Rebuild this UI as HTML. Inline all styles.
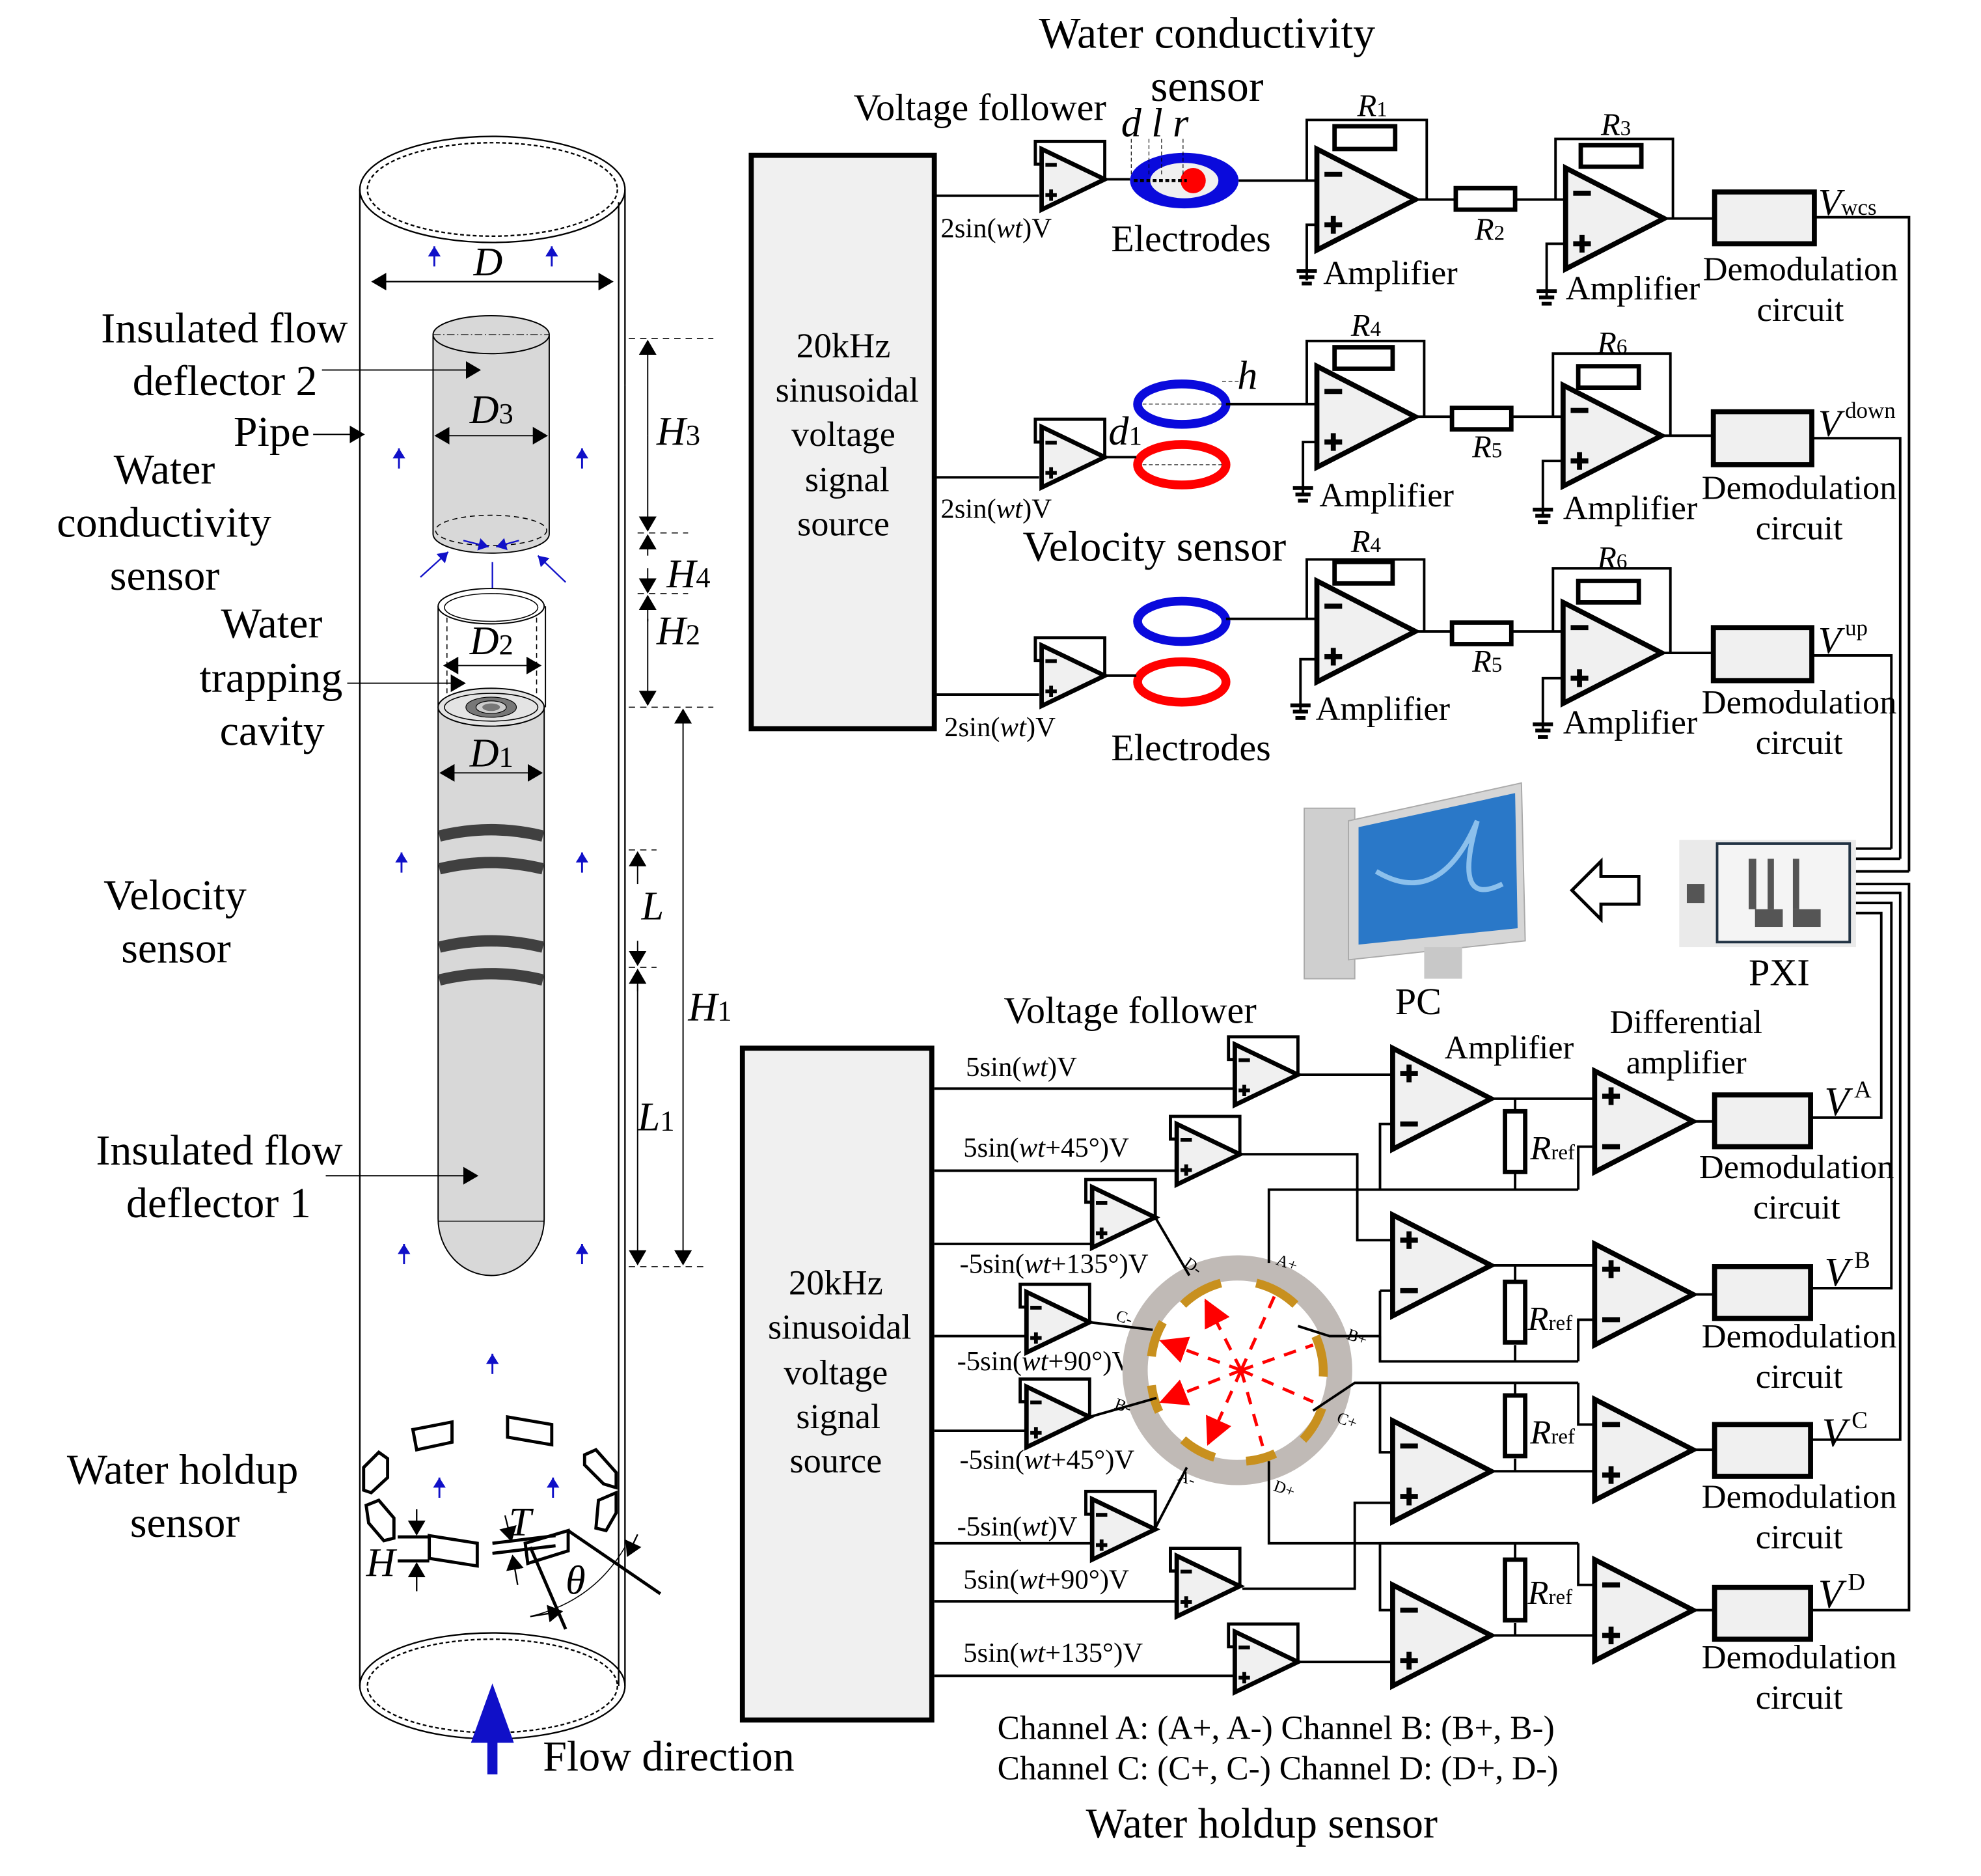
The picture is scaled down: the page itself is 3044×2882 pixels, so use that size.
<!DOCTYPE html>
<html><head><meta charset="utf-8"><style>
html,body{margin:0;padding:0;background:#fff}
svg{display:block}
text{font-family:"Liberation Serif",serif;fill:#000}
.i{font-style:italic}
</style></head><body>
<svg width="3044" height="2882" viewBox="0 0 1569 1485.5" xmlns="http://www.w3.org/2000/svg" font-family="Liberation Serif, serif">
<defs>
<marker id="ahb" markerWidth="12" markerHeight="14" refX="11" refY="7" orient="auto-start-reverse" markerUnits="userSpaceOnUse" viewBox="0 0 12 14"><path d="M0,0 L12,7 L0,14z" fill="#000"/></marker>
<marker id="ab" markerWidth="8" markerHeight="10" refX="8" refY="5" orient="auto-start-reverse" markerUnits="userSpaceOnUse" viewBox="0 0 8 10"><path d="M0,0 L8,5 L0,10z" fill="#1010c8"/></marker>
<marker id="ar" markerWidth="22" markerHeight="22" refX="20" refY="11" orient="auto" markerUnits="userSpaceOnUse" viewBox="0 0 22 22"><path d="M0,0 L22,11 L0,22z" fill="#f00"/></marker>
<g id="oam"><polygon points="0,0 0,80 78,40" fill="#f0f0f0" stroke="#000" stroke-width="4"/><rect x="6" y="18" width="14" height="4"/><rect x="6" y="58" width="14" height="4"/><rect x="11" y="53" width="4" height="14"/></g>
<g id="oap"><polygon points="0,0 0,80 78,40" fill="#f0f0f0" stroke="#000" stroke-width="4"/><rect x="6" y="18" width="14" height="4"/><rect x="11" y="13" width="4" height="14"/><rect x="6" y="58" width="14" height="4"/></g>
<g id="vf"><path d="M0,12 H-5 V-6 H50 V24" fill="none" stroke="#000" stroke-width="2.5"/><polygon points="0,0 0,48 50,24" fill="#f0f0f0" stroke="#000" stroke-width="3.5"/><rect x="3" y="11" width="9" height="3"/><rect x="3" y="35" width="9" height="3"/><rect x="6" y="32" width="3" height="9"/></g>
<g id="gnd"><rect x="-8" y="0" width="16" height="3"/><rect x="-6" y="5" width="12" height="3"/><rect x="-4" y="10" width="8" height="3"/></g>
<g id="barrow"><line x1="0" y1="16" x2="0" y2="0" stroke="#1010c8" stroke-width="1.5" marker-end="url(#ab)"/></g>
</defs>

<!-- ============ LEFT PIPE ============ -->
<g fill="none" stroke="#000" stroke-width="1.2">
<ellipse cx="390" cy="150" rx="105" ry="42"/>
<ellipse cx="390" cy="150" rx="99" ry="37" stroke-dasharray="3,2"/>
<ellipse cx="390" cy="1335" rx="105" ry="42"/>
<ellipse cx="390" cy="1335" rx="99" ry="37" stroke-dasharray="3,2"/>
<line x1="285" y1="150" x2="285" y2="1335"/>
<line x1="495" y1="150" x2="495" y2="305"/>
<line x1="490" y1="160" x2="490" y2="1335"/>
<line x1="495" y1="305" x2="495" y2="1335"/>
</g>
<line x1="295" y1="223" x2="485" y2="223" stroke="#000" stroke-width="1.2" marker-start="url(#ahb)" marker-end="url(#ahb)"/>
<text x="375" y="218" font-size="32" class="i">D</text>
<use href="#barrow" x="344" y="195"/><use href="#barrow" x="437" y="195"/>

<!-- deflector 2 -->
<path d="M343,265 V423 A46,15 0 0 0 435,423 V265" fill="#d8d8d8" stroke="#000" stroke-width="1"/>
<ellipse cx="389" cy="265" rx="46" ry="15" fill="#d8d8d8" stroke="#000" stroke-width="1"/>
<line x1="343" y1="265" x2="435" y2="265" stroke="#000" stroke-width="0.6" stroke-dasharray="6,2,1,2"/>
<ellipse cx="389" cy="420" rx="44" ry="12" fill="none" stroke="#000" stroke-width="0.8" stroke-dasharray="4,3"/>
<line x1="345" y1="345" x2="433" y2="345" stroke="#000" stroke-width="1" marker-start="url(#ahb)" marker-end="url(#ahb)"/>
<text x="372" y="335" font-size="32" class="i">D<tspan font-size="23" font-style="normal">3</tspan></text>
<g stroke="#1010c8" stroke-width="1.2">
<line x1="333" y1="457" x2="355" y2="437" marker-end="url(#ab)"/>
<line x1="448" y1="461" x2="426" y2="440" marker-end="url(#ab)"/>
<line x1="367" y1="428" x2="387" y2="433" marker-end="url(#ab)"/>
<line x1="411" y1="428" x2="393" y2="433" marker-end="url(#ab)"/>
<line x1="390" y1="445" x2="390" y2="475" marker-end="url(#ab)"/>
</g>
<!-- cavity -->
<path d="M347,480 V560 M432,480 V560" stroke="#000" stroke-width="1" fill="none"/>
<path d="M354,482 V560 M425,482 V560" stroke="#000" stroke-width="0.8" stroke-dasharray="4,3" fill="none"/>
<ellipse cx="389" cy="480" rx="42" ry="14" fill="#fff" stroke="#000" stroke-width="1"/>
<ellipse cx="389" cy="481" rx="37" ry="11" fill="none" stroke="#000" stroke-width="0.8"/>
<line x1="352" y1="527" x2="428" y2="527" stroke="#000" stroke-width="1" marker-start="url(#ahb)" marker-end="url(#ahb)"/>
<text x="372" y="518" font-size="32" class="i">D<tspan font-size="23" font-style="normal">2</tspan></text>
<!-- deflector 1 -->
<path d="M347,560 V965 A42,45 0 0 0 431,965 V560" fill="#d8d8d8" stroke="#000" stroke-width="1"/>
<line x1="347" y1="967" x2="431" y2="967" stroke="#000" stroke-width="0.6"/>
<ellipse cx="389" cy="560" rx="42" ry="15" fill="#e4e4e4" stroke="#000" stroke-width="1"/>
<ellipse cx="389" cy="560" rx="37" ry="11" fill="none" stroke="#000" stroke-width="0.8"/>
<ellipse cx="389" cy="560" rx="20" ry="8" fill="#777" stroke="#000" stroke-width="0.6"/>
<ellipse cx="389" cy="560" rx="12" ry="5" fill="#ccc" stroke="#000" stroke-width="0.6"/>
<ellipse cx="389" cy="560" rx="7" ry="3" fill="#777"/>
<line x1="349" y1="612" x2="429" y2="612" stroke="#000" stroke-width="1" marker-start="url(#ahb)" marker-end="url(#ahb)"/>
<text x="372" y="607" font-size="32" class="i">D<tspan font-size="23" font-style="normal">1</tspan></text>
<g stroke="#404040" stroke-width="9" fill="none">
<path d="M348,662 Q389,652 430,662"/><path d="M348,688 Q389,678 430,688"/>
<path d="M348,750 Q389,740 430,750"/><path d="M348,776 Q389,766 430,776"/>
</g>
<use href="#barrow" x="316" y="355"/><use href="#barrow" x="461" y="355"/>
<use href="#barrow" x="318" y="675"/><use href="#barrow" x="461" y="675"/>
<use href="#barrow" x="320" y="985"/><use href="#barrow" x="461" y="985"/>
<use href="#barrow" x="390" y="1072"/>
<use href="#barrow" x="348" y="1170"/><use href="#barrow" x="438" y="1170"/>

<!-- dimension lines -->
<g stroke="#000" stroke-width="0.8" stroke-dasharray="5,4">
<line x1="498" y1="268" x2="565" y2="268"/><line x1="505" y1="422" x2="545" y2="422"/>
<line x1="505" y1="470" x2="545" y2="470"/><line x1="498" y1="560" x2="565" y2="560"/>
<line x1="498" y1="673" x2="520" y2="673"/><line x1="498" y1="766" x2="520" y2="766"/>
<line x1="498" y1="1003" x2="560" y2="1003"/>
</g>
<g stroke="#000" stroke-width="1">
<line x1="513" y1="345" x2="513" y2="270" marker-end="url(#ahb)"/><line x1="513" y1="345" x2="513" y2="420" marker-end="url(#ahb)"/>
<line x1="513" y1="440" x2="513" y2="424" marker-end="url(#ahb)"/><line x1="513" y1="450" x2="513" y2="469" marker-end="url(#ahb)"/>
<line x1="513" y1="492" x2="513" y2="472" marker-end="url(#ahb)"/><line x1="513" y1="490" x2="513" y2="558" marker-end="url(#ahb)"/>
<line x1="505" y1="700" x2="505" y2="675" marker-end="url(#ahb)"/><line x1="505" y1="745" x2="505" y2="764" marker-end="url(#ahb)"/>
<line x1="505" y1="785" x2="505" y2="768" marker-end="url(#ahb)"/><line x1="505" y1="780" x2="505" y2="1001" marker-end="url(#ahb)"/>
<line x1="541" y1="600" x2="541" y2="562" marker-end="url(#ahb)"/><line x1="541" y1="600" x2="541" y2="1001" marker-end="url(#ahb)"/>
</g>
<text x="520" y="352" font-size="32" class="i">H<tspan font-size="23" font-style="normal">3</tspan></text>
<text x="528" y="465" font-size="32" class="i">H<tspan font-size="23" font-style="normal">4</tspan></text>
<text x="520" y="510" font-size="32" class="i">H<tspan font-size="23" font-style="normal">2</tspan></text>
<text x="508" y="728" font-size="32" class="i">L</text>
<text x="505" y="895" font-size="32" class="i">L<tspan font-size="23" font-style="normal">1</tspan></text>
<text x="545" y="808" font-size="32" class="i">H<tspan font-size="23" font-style="normal">1</tspan></text>

<!-- left labels -->
<g font-size="34">
<text x="80" y="271">Insulated flow</text>
<text x="105" y="313">deflector 2</text>
<text x="185" y="353">Pipe</text>
<text x="90" y="383">Water</text>
<text x="45" y="425">conductivity</text>
<text x="87" y="467">sensor</text>
<text x="175" y="505">Water</text>
<text x="158" y="548">trapping</text>
<text x="174" y="590">cavity</text>
<text x="82" y="720">Velocity</text>
<text x="96" y="762">sensor</text>
<text x="76" y="922">Insulated flow</text>
<text x="100" y="964">deflector 1</text>
<text x="53" y="1175">Water holdup</text>
<text x="103" y="1217">sensor</text>
<text x="430" y="1402">Flow direction</text>
</g>
<g stroke="#000" stroke-width="1">
<line x1="255" y1="293" x2="380" y2="293" marker-end="url(#ahb)"/>
<line x1="248" y1="344" x2="288" y2="344" marker-end="url(#ahb)"/>
<line x1="275" y1="541" x2="368" y2="541" marker-end="url(#ahb)"/>
<line x1="258" y1="931" x2="378" y2="931" marker-end="url(#ahb)"/>
</g>
<rect x="386" y="1370" width="8" height="35" fill="#1010c8"/>
<polygon points="373,1380 390,1333 407,1380" fill="#1010c8"/>

<!-- holdup sensor blocks -->
<g fill="#fff" stroke="#000" stroke-width="2.5">
<path d="M327,1132 L358,1126 V1142 L330,1148Z"/><path d="M402,1122 L437,1128 V1144 L402,1138Z"/>
<path d="M288,1162 L300,1150 L307,1155 V1170 L294,1182 L288,1180Z"/>
<path d="M463,1152 L472,1148 L488,1166 V1178 L478,1175 L463,1160Z"/>
<path d="M290,1192 L300,1188 L312,1202 V1218 L304,1220 L292,1206Z"/>
<path d="M474,1188 L488,1182 V1198 L480,1212 L472,1210Z"/>
<path d="M340,1216 L378,1222 V1240 L340,1234Z"/>
<path d="M416,1222 L450,1212 V1228 L418,1238Z"/>
</g>
<g stroke="#000" stroke-width="1.2">
<line x1="315" y1="1217" x2="340" y2="1217" stroke-width="2.5"/><line x1="315" y1="1236" x2="340" y2="1236" stroke-width="2.5"/>
<line x1="330" y1="1195" x2="330" y2="1215" marker-end="url(#ahb)"/><line x1="330" y1="1260" x2="330" y2="1238" marker-end="url(#ahb)"/>
<line x1="390" y1="1222" x2="440" y2="1216" stroke-width="2.5"/><line x1="390" y1="1230" x2="440" y2="1224" stroke-width="2.5"/>
<line x1="400" y1="1200" x2="405" y2="1220" marker-end="url(#ahb)"/><line x1="410" y1="1255" x2="406" y2="1232" marker-end="url(#ahb)"/>
<line x1="450" y1="1212" x2="523" y2="1262" stroke-width="2.5"/><line x1="420" y1="1225" x2="448" y2="1290" stroke-width="2.5"/>
<path d="M420,1280 Q470,1268 495,1225" fill="none" stroke-width="0.8"/>
<line x1="420" y1="1280" x2="445" y2="1276" marker-end="url(#ahb)"/>
<line x1="505" y1="1215" x2="497" y2="1232" marker-end="url(#ahb)"/>
</g>
<text x="290" y="1248" font-size="32" class="i">H</text>
<text x="403" y="1216" font-size="32" class="i">T</text>
<text x="448" y="1262" font-size="32" class="i">θ</text>

<!-- ============ TOP CIRCUIT ============ -->
<rect x="595" y="123" width="145" height="454" fill="#f0f0f0" stroke="#000" stroke-width="4"/>
<g font-size="28" text-anchor="middle">
<text x="668" y="283">20kHz</text><text x="671" y="318">sinusoidal</text><text x="668" y="353">voltage</text><text x="671" y="389">signal</text><text x="668" y="424">source</text>
</g>
<text x="956" y="38" font-size="35" text-anchor="middle">Water conductivity</text>
<text x="956" y="80" font-size="35" text-anchor="middle">sensor</text>
<text x="676" y="95" font-size="30">Voltage follower</text>
<text x="888" y="108" font-size="32" class="i">d l r</text>
<g stroke="#000" stroke-width="2" fill="none">
<line x1="740" y1="155" x2="823" y2="155"/>
<line x1="742" y1="378" x2="823" y2="378"/>
<line x1="742" y1="550" x2="823" y2="550"/>
</g>
<text x="745" y="188" font-size="22">2sin(<tspan class="i">wt</tspan>)V</text>
<text x="745" y="410" font-size="22">2sin(<tspan class="i">wt</tspan>)V</text>
<text x="748" y="583" font-size="22">2sin(<tspan class="i">wt</tspan>)V</text>
<use href="#vf" x="825" y="118"/>
<use href="#vf" x="825" y="338"/>
<use href="#vf" x="825" y="511"/>
<ellipse cx="938" cy="143" rx="43" ry="22" fill="#0a0adc"/>
<ellipse cx="938" cy="143" rx="27" ry="14" fill="#f0f0f0"/>
<circle cx="945" cy="143" r="10" fill="#f00"/>
<line x1="898" y1="143" x2="940" y2="143" stroke="#000" stroke-width="2.5" stroke-dasharray="3,2"/>
<g stroke="#000" stroke-width="0.6" stroke-dasharray="3,2"><line x1="896" y1="110" x2="896" y2="140"/><line x1="910" y1="110" x2="910" y2="140"/><line x1="920" y1="110" x2="920" y2="140"/><line x1="937" y1="110" x2="937" y2="140"/></g>
<text x="880" y="199" font-size="30">Electrodes</text>
<g stroke="#000" stroke-width="2" fill="none">
<line x1="875" y1="142" x2="895" y2="142"/>
<path d="M981,143 H1043 M1035,143 V95 H1130 V158 M1122,158 H1153 M1200,158 H1240 M1232,158 V110 H1325 V173 M1318,173 H1358 M1437,172 H1512 V690"/>
<path d="M1043,178 H1035 V222"/><path d="M1240,193 H1225 V235"/>
</g>
<rect x="1057" y="100" width="48" height="18" fill="#fff" stroke="#000" stroke-width="3.5"/>
<rect x="1153" y="149" width="47" height="17" fill="#fff" stroke="#000" stroke-width="3.5"/>
<rect x="1252" y="115" width="48" height="17" fill="#fff" stroke="#000" stroke-width="3.5"/>
<use href="#oam" x="1043" y="118"/>
<use href="#oam" x="1240" y="133"/>
<use href="#gnd" x="1035" y="213"/><use href="#gnd" x="1225" y="229"/>
<text x="1075" y="92" font-size="25" class="i">R<tspan font-size="17" font-style="normal">1</tspan></text>
<text x="1168" y="190" font-size="25" class="i">R<tspan font-size="17" font-style="normal">2</tspan></text>
<text x="1268" y="107" font-size="25" class="i">R<tspan font-size="17" font-style="normal">3</tspan></text>
<text x="1048" y="225" font-size="27">Amplifier</text>
<text x="1240" y="237" font-size="27">Amplifier</text>
<rect x="1358" y="152" width="79" height="41" fill="#f0f0f0" stroke="#000" stroke-width="4"/>
<text x="1426" y="222" font-size="27" text-anchor="middle">Demodulation</text>
<text x="1426" y="254" font-size="27" text-anchor="middle">circuit</text>
<text x="1440" y="170" font-size="30" class="i">V<tspan font-size="18" font-style="normal">wcs</tspan></text>

<!-- row 2 -->
<ellipse cx="936" cy="320" rx="35" ry="16" fill="none" stroke="#0a0adc" stroke-width="7"/>
<ellipse cx="936" cy="368" rx="35" ry="16" fill="none" stroke="#f00" stroke-width="7"/>
<line x1="905" y1="320" x2="968" y2="320" stroke="#000" stroke-width="0.6" stroke-dasharray="3,2"/>
<line x1="905" y1="368" x2="968" y2="368" stroke="#000" stroke-width="0.6" stroke-dasharray="3,2"/>
<line x1="968" y1="302" x2="985" y2="302" stroke="#000" stroke-width="0.6" stroke-dasharray="3,2"/>
<text x="980" y="308" font-size="32" class="i">h</text>
<text x="878" y="352" font-size="32" class="i">d<tspan font-size="21" font-style="normal">1</tspan></text>
<text x="810" y="444" font-size="34">Velocity sensor</text>
<g stroke="#000" stroke-width="2" fill="none">
<path d="M875,362 H900"/>
<path d="M971,320 H1043 M1035,320 V270 H1128 V330 M1120,330 H1150 M1197,330 H1238 M1230,330 V280 H1323 V345 M1315,345 H1357 M1435,347 H1505 V680"/>
<path d="M1043,350 H1032 V392"/><path d="M1238,365 H1222 V408"/>
</g>
<rect x="1057" y="275" width="46" height="17" fill="#fff" stroke="#000" stroke-width="3.5"/>
<rect x="1150" y="323" width="47" height="17" fill="#fff" stroke="#000" stroke-width="3.5"/>
<rect x="1250" y="290" width="48" height="17" fill="#fff" stroke="#000" stroke-width="3.5"/>
<use href="#oam" x="1043" y="290"/>
<use href="#oam" x="1238" y="305"/>
<use href="#gnd" x="1032" y="385"/><use href="#gnd" x="1222" y="402"/>
<text x="1070" y="266" font-size="25" class="i">R<tspan font-size="17" font-style="normal">4</tspan></text>
<text x="1166" y="362" font-size="25" class="i">R<tspan font-size="17" font-style="normal">5</tspan></text>
<text x="1265" y="280" font-size="25" class="i">R<tspan font-size="17" font-style="normal">6</tspan></text>
<text x="1045" y="401" font-size="27">Amplifier</text>
<text x="1238" y="411" font-size="27">Amplifier</text>
<rect x="1357" y="326" width="78" height="42" fill="#f0f0f0" stroke="#000" stroke-width="4"/>
<text x="1425" y="395" font-size="27" text-anchor="middle">Demodulation</text>
<text x="1425" y="427" font-size="27" text-anchor="middle">circuit</text>
<text x="1440" y="345" font-size="30" class="i">V<tspan font-size="18" font-style="normal" dy="-14" dx="3">down</tspan></text>

<!-- row 3 -->
<ellipse cx="936" cy="492" rx="35" ry="16" fill="none" stroke="#0a0adc" stroke-width="7"/>
<ellipse cx="936" cy="540" rx="35" ry="16" fill="none" stroke="#f00" stroke-width="7"/>
<text x="880" y="602" font-size="30">Electrodes</text>
<g stroke="#000" stroke-width="2" fill="none">
<path d="M875,535 H900"/>
<path d="M971,490 H1043 M1035,490 V443 H1128 V500 M1120,500 H1150 M1197,500 H1238 M1230,500 V450 H1323 V517 M1315,517 H1357 M1435,519 H1498 V672"/>
<path d="M1043,522 H1030 V563"/><path d="M1238,537 H1222 V578"/>
</g>
<rect x="1057" y="445" width="46" height="17" fill="#fff" stroke="#000" stroke-width="3.5"/>
<rect x="1150" y="493" width="47" height="17" fill="#fff" stroke="#000" stroke-width="3.5"/>
<rect x="1250" y="460" width="48" height="17" fill="#fff" stroke="#000" stroke-width="3.5"/>
<use href="#oam" x="1043" y="460"/>
<use href="#oam" x="1238" y="477"/>
<use href="#gnd" x="1030" y="557"/><use href="#gnd" x="1222" y="572"/>
<text x="1070" y="437" font-size="25" class="i">R<tspan font-size="17" font-style="normal">4</tspan></text>
<text x="1166" y="532" font-size="25" class="i">R<tspan font-size="17" font-style="normal">5</tspan></text>
<text x="1265" y="450" font-size="25" class="i">R<tspan font-size="17" font-style="normal">6</tspan></text>
<text x="1042" y="570" font-size="27">Amplifier</text>
<text x="1238" y="581" font-size="27">Amplifier</text>
<rect x="1357" y="497" width="78" height="42" fill="#f0f0f0" stroke="#000" stroke-width="4"/>
<text x="1425" y="565" font-size="27" text-anchor="middle">Demodulation</text>
<text x="1425" y="597" font-size="27" text-anchor="middle">circuit</text>
<text x="1440" y="517" font-size="30" class="i">V<tspan font-size="18" font-style="normal" dy="-14" dx="3">up</tspan></text>

<!-- PC & PXI -->
<rect x="1033" y="640" width="40" height="135" fill="#cfcfcf" stroke="#aaa"/>
<path d="M1068,650 L1205,620 L1208,745 L1068,760Z" fill="#d6d6d6" stroke="#aaa"/>
<path d="M1076,655 L1200,628 L1202,735 L1076,748Z" fill="#2a78c8"/>
<path d="M1090,690 Q1140,720 1170,650 Q1150,720 1190,700" stroke="#8cc0ec" stroke-width="4" fill="none"/>
<rect x="1128" y="750" width="30" height="25" fill="#c8c8c8"/>
<text x="1105" y="803" font-size="30">PC</text>
<path d="M1245,705 L1268,682 V694 H1298 V716 H1268 V728Z" fill="#fff" stroke="#000" stroke-width="2.5"/>
<rect x="1330" y="665" width="140" height="85" fill="#eaeaea"/>
<rect x="1360" y="668" width="105" height="78" fill="#f4f4f4" stroke="#234" stroke-width="2"/>
<g fill="#555"><rect x="1385" y="680" width="6" height="40"/><rect x="1400" y="680" width="5" height="40"/><rect x="1420" y="680" width="5" height="40"/><rect x="1390" y="720" width="22" height="14"/><rect x="1420" y="720" width="22" height="14"/><rect x="1336" y="700" width="14" height="15"/></g>
<text x="1385" y="780" font-size="30">PXI</text>
<g stroke="#000" stroke-width="2" fill="none">
<path d="M1470,690 H1512"/><path d="M1470,680 H1505"/><path d="M1470,672 H1498"/>
<path d="M1470,700 H1512 V1275 H1435"/>
<path d="M1470,707 H1505 V1140 H1435"/>
<path d="M1470,715 H1498 V1020 H1435"/>
<path d="M1470,723 H1490 V885 H1435"/>
</g>

<!-- ============ BOTTOM CIRCUIT ============ -->
<rect x="588" y="830" width="150" height="532" fill="#f0f0f0" stroke="#000" stroke-width="4"/>
<g font-size="28" text-anchor="middle">
<text x="662" y="1025">20kHz</text><text x="665" y="1060">sinusoidal</text><text x="662" y="1096">voltage</text><text x="664" y="1131">signal</text><text x="662" y="1166">source</text>
</g>
<text x="795" y="810" font-size="30">Voltage follower</text>
<text x="1144" y="838" font-size="26">Amplifier</text>
<text x="1275" y="818" font-size="26">Differential</text>
<text x="1288" y="850" font-size="26">amplifier</text>
<g font-size="22">
<text x="765" y="852">5sin(<tspan class="i">wt</tspan>)V</text>
<text x="763" y="916">5sin(<tspan class="i">wt</tspan>+45°)V</text>
<text x="760" y="1008">-5sin(<tspan class="i">wt</tspan>+135°)V</text>
<text x="758" y="1085">-5sin(<tspan class="i">wt</tspan>+90°)V</text>
<text x="760" y="1163">-5sin(<tspan class="i">wt</tspan>+45°)V</text>
<text x="758" y="1216">-5sin(<tspan class="i">wt</tspan>)V</text>
<text x="763" y="1258">5sin(<tspan class="i">wt</tspan>+90°)V</text>
<text x="763" y="1316">5sin(<tspan class="i">wt</tspan>+135°)V</text>
</g>
<g stroke="#000" stroke-width="2" fill="none">
<path d="M740,862 H978"/><path d="M740,927 H932"/><path d="M740,985 H865"/><path d="M740,1058 H813"/>
<path d="M740,1133 H813"/><path d="M740,1222 H865"/><path d="M740,1268 H932"/><path d="M740,1327 H978"/>
</g>
<use href="#vf" x="978" y="827"/>
<use href="#vf" x="932" y="890"/>
<use href="#vf" x="865" y="940"/>
<use href="#vf" x="813" y="1023"/>
<use href="#vf" x="813" y="1098"/>
<use href="#vf" x="865" y="1187"/>
<use href="#vf" x="932" y="1232"/>
<use href="#vf" x="978" y="1292"/>

<!-- ring -->
<circle cx="980" cy="1085" r="81" fill="none" stroke="#c0bab6" stroke-width="20"/>
<g stroke="#c8901e" stroke-width="7" fill="none">
<path d="M937,1033 A70,70 0 0 1 967,1016"/>
<path d="M995,1016 A70,70 0 0 1 1026,1033"/>
<path d="M1042,1058 A70,70 0 0 1 1048,1090"/>
<path d="M1047,1115 A70,70 0 0 1 1032,1140"/>
<path d="M1010,1151 A70,70 0 0 1 987,1157"/>
<path d="M962,1154 A70,70 0 0 1 937,1140"/>
<path d="M918,1118 A70,70 0 0 1 912,1097"/>
<path d="M912,1074 A70,70 0 0 1 921,1047"/>
</g>
<g font-size="13" fill="#666" font-family="Liberation Sans,sans-serif">
<text x="937" y="1002" transform="rotate(35 937 1002)">D-</text>
<text x="1010" y="1001" transform="rotate(20 1010 1001)">A+</text>
<text x="1066" y="1060" transform="rotate(20 1066 1060)">B+</text>
<text x="1058" y="1126" transform="rotate(20 1058 1126)">C+</text>
<text x="1008" y="1180" transform="rotate(20 1008 1180)">D+</text>
<text x="932" y="1172" transform="rotate(20 932 1172)">A-</text>
<text x="882" y="1115" transform="rotate(20 882 1115)">B-</text>
<text x="883" y="1045" transform="rotate(20 883 1045)">C-</text>
</g>
<g stroke="#f00" stroke-width="2.5" stroke-dasharray="10,8" fill="none">
<line x1="983" y1="1085" x2="1010" y2="1025"/>
<line x1="983" y1="1085" x2="1040" y2="1065"/>
<line x1="983" y1="1085" x2="1040" y2="1110"/>
<line x1="983" y1="1085" x2="1000" y2="1145"/>
</g>
<g stroke="#f00" stroke-width="2.5" fill="none">
<line x1="983" y1="1085" x2="955" y2="1030" stroke-dasharray="10,8" marker-end="url(#ar)"/>
<line x1="983" y1="1085" x2="920" y2="1062" stroke-dasharray="10,8" marker-end="url(#ar)"/>
<line x1="983" y1="1085" x2="920" y2="1110" stroke-dasharray="10,8" marker-end="url(#ar)"/>
<line x1="983" y1="1085" x2="957" y2="1143" stroke-dasharray="10,8" marker-end="url(#ar)"/>
</g>
<g stroke="#000" stroke-width="2" fill="none">
<path d="M915,964 L942,1010"/>
<path d="M863,1047 L913,1053"/>
<path d="M863,1122 L916,1107"/>
<path d="M915,1210 L940,1162"/>
<path d="M1028,1050 L1053,1058 H1093"/>
<path d="M1040,1117 L1073,1095 H1093"/>
<path d="M1028,851 H1103"/>
<path d="M984,914 H1075 V982 H1103"/>
<path d="M984,1258 H1073 V1190 H1103"/>
<path d="M1028,1316 H1103"/>
<path d="M1005,1000 V942 H1250"/>
<path d="M1093,942 V890 H1103"/>
<path d="M1093,1022 H1103 M1093,1022 V1078 H1250"/>
<path d="M1093,1058 V1078"/>
<path d="M1093,1095 V1150 H1103"/>
<path d="M1005,1157 V1222 H1250"/>
<path d="M1093,1222 V1275 H1103"/>
<path d="M1182,870 H1263 M1200,870 V880 M1200,928 V942 M1250,942 V908 H1263"/>
<path d="M1182,1002 H1263 M1200,1002 V1015 M1200,1065 V1078 M1250,1078 V1045 H1263"/>
<path d="M1093,1095 H1200 V1105 M1200,1155 V1165 H1182 M1200,1165 H1263 M1250,1095 V1128 H1263 M1200,1095 H1250"/>
<path d="M1093,1222 H1200 V1235 M1200,1285 V1295 H1182 M1200,1295 H1263 M1250,1222 V1255 H1263 M1200,1222 H1250"/>
<path d="M1340,888 H1358 M1340,1025 H1358 M1340,1148 H1358 M1340,1275 H1358"/>
</g>
<use href="#oap" x="1103" y="830"/>
<use href="#oap" x="1103" y="962"/>
<use href="#oam" x="1103" y="1125"/>
<use href="#oam" x="1103" y="1255"/>
<use href="#oap" x="1263" y="848"/>
<use href="#oap" x="1263" y="985"/>
<use href="#oam" x="1263" y="1108"/>
<use href="#oam" x="1263" y="1235"/>
<g fill="#fff" stroke="#000" stroke-width="3.5">
<rect x="1192" y="880" width="16" height="48"/><rect x="1192" y="1015" width="16" height="48"/>
<rect x="1192" y="1105" width="16" height="48"/><rect x="1192" y="1235" width="16" height="48"/>
</g>
<g font-size="27" class="i">
<text x="1212" y="918">R<tspan font-size="17" font-style="normal">ref</tspan></text>
<text x="1210" y="1053">R<tspan font-size="17" font-style="normal">ref</tspan></text>
<text x="1212" y="1143">R<tspan font-size="17" font-style="normal">ref</tspan></text>
<text x="1210" y="1270">R<tspan font-size="17" font-style="normal">ref</tspan></text>
</g>
<g fill="#f0f0f0" stroke="#000" stroke-width="4">
<rect x="1358" y="867" width="76" height="41"/><rect x="1358" y="1003" width="76" height="41"/>
<rect x="1358" y="1128" width="76" height="41"/><rect x="1358" y="1257" width="76" height="41"/>
</g>
<g font-size="27" text-anchor="middle">
<text x="1423" y="933">Demodulation</text><text x="1423" y="965">circuit</text>
<text x="1425" y="1067">Demodulation</text><text x="1425" y="1099">circuit</text>
<text x="1425" y="1194">Demodulation</text><text x="1425" y="1226">circuit</text>
<text x="1425" y="1321">Demodulation</text><text x="1425" y="1353">circuit</text>
</g>
<g font-size="32" class="i">
<text x="1445" y="883">V<tspan font-size="19" font-style="normal" dy="-14" dx="4">A</tspan></text>
<text x="1445" y="1018">V<tspan font-size="19" font-style="normal" dy="-14" dx="4">B</tspan></text>
<text x="1443" y="1145">V<tspan font-size="19" font-style="normal" dy="-14" dx="4">C</tspan></text>
<text x="1440" y="1273">V<tspan font-size="19" font-style="normal" dy="-14" dx="4">D</tspan></text>
</g>
<text x="790" y="1377" font-size="26.5">Channel A: (A+, A-) Channel B: (B+, B-)</text>
<text x="790" y="1409" font-size="26.5">Channel C: (C+, C-) Channel D: (D+, D-)</text>
<text x="860" y="1455" font-size="34">Water holdup sensor</text>
</svg>
</body></html>
